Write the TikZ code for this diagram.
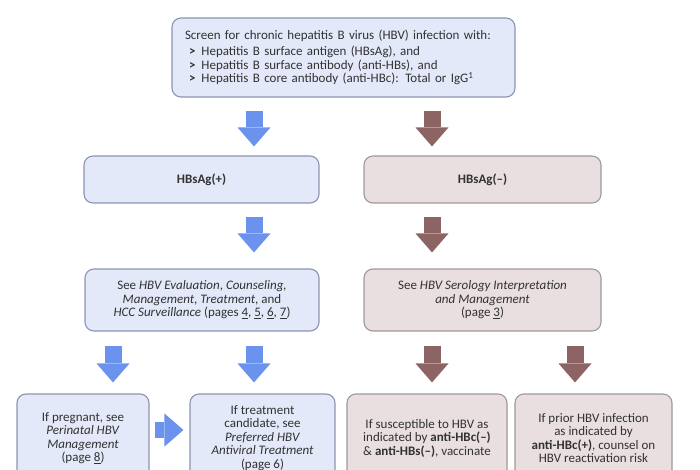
\documentclass[tikz,border=0pt]{standalone}
\usepackage{fontspec}
\setmainfont{Carlito}
\usepackage{tikz}
\usetikzlibrary{calc,arrows.meta}
\definecolor{bluefill}{RGB}{228,233,249}
\definecolor{blueline}{RGB}{140,148,176}
\definecolor{brownfill}{RGB}{233,223,225}
\definecolor{brownline}{RGB}{160,152,155}
\definecolor{bluearrow}{RGB}{107,146,236}
\definecolor{brownarrow}{RGB}{140,100,100}
\definecolor{txt}{RGB}{50,50,50}

\tikzset{
    box/.style={rounded corners=9pt, line width=1.1pt, align=center, inner sep=4pt,
        text=txt, font=\fontsize{13}{13.5}\selectfont},
    bluebox/.style={box, draw=blueline, fill=bluefill},
    brownbox/.style={box, draw=brownline, fill=brownfill},
    fatarrow/.style={line width=17pt, -{Triangle[width=33pt,length=19pt,line width=0pt]}},
    bluearr/.style={fatarrow, draw=bluearrow, fill=bluearrow},
    brownarr/.style={fatarrow, draw=brownarrow, fill=brownarrow}
}

\begin{document}
\begin{tikzpicture}[x=1pt,y=-1pt]
    \useasboundingbox (0,0) rectangle (700,470);
    \clip (0,0) rectangle (700,470);
    % screening box
    \node[bluebox, align=left, text width=317pt, minimum width=343pt, minimum height=79pt] (top) at (343.5,57.5)
        {Screen for chronic hepatitis B virus (HBV) infection with:\\[3pt]
        \hspace{4pt}\textbf{>}\hspace{6pt}Hepatitis B surface antigen (HBsAg), and\\
        \hspace{4pt}\textbf{>}\hspace{6pt}Hepatitis B surface antibody (anti-HBs), and\\
        \hspace{4pt}\textbf{>}\hspace{6pt}Hepatitis B core antibody (anti-HBc): Total or IgG\textsuperscript{1}};
    % results
    \node[bluebox, minimum width=235pt, minimum height=47pt] (plus) at (201.5,179.5) {\textbf{HBsAg(+)}};
    \node[brownbox, minimum width=237pt, minimum height=47pt] (minus) at (482.5,179.5) {\textbf{HBsAg(–)}};
    \node[bluebox, minimum width=234pt, minimum height=62pt] (evalbox) at (202,300)
        {See \textit{HBV Evaluation}, \textit{Counseling,}\\
        \textit{Management}, \textit{Treatment}, and\\
        \textit{HCC Surveillance} (pages \underline{4}, \underline{5}, \underline{6}, \underline{7})};
    \node[brownbox, minimum width=237pt, minimum height=62pt] (serobox) at (482.5,300)
        {See \textit{HBV Serology Interpretation}\\
        \textit{and Management}\\
        (page \underline{3})};
    % bottom row
    \node[bluebox, minimum width=132pt, minimum height=88pt] (preg) at (83,438)
        {If pregnant, see\\ \textit{Perinatal HBV}\\ \textit{Management}\\ (page \underline{8})};
    \node[bluebox, minimum width=145pt, minimum height=88pt] (treat) at (262.5,438)
        {If treatment\\ candidate, see\\ \textit{Preferred HBV}\\ \textit{Antiviral Treatment}\\ (page \underline{6})};
    \node[brownbox, minimum width=160pt, minimum height=88pt] (susc) at (427,438)
        {If susceptible to HBV as\\ indicated by \textbf{anti-HBc(–)}\\ \& \textbf{anti-HBs(–)}, vaccinate};
    \node[brownbox, minimum width=157pt, minimum height=88pt] (prior) at (593.5,438)
        {If prior HBV infection\\ as indicated by\\ \textbf{anti-HBc(+)}, counsel on\\ HBV reactivation risk};
    % arrows
    \draw[bluearr] ($(top.south)+(-89.5,13)$) -- ($(plus.north)+(52.5,-9)$);
    \draw[brownarr] ($(top.south)+(88.5,13)$) -- ($(minus.north)+(-50.5,-9)$);
    \draw[bluearr] ($(plus.south)+(52.5,13)$) -- ($(evalbox.north)+(52,-16)$);
    \draw[brownarr] ($(minus.south)+(-50.5,13)$) -- ($(serobox.north)+(-50.5,-16)$);
    \draw[bluearr] ($(evalbox.south)+(-89,14)$) -- ($(preg.north)+(30,-11)$);
    \draw[bluearr] ($(evalbox.south)+(52,14)$) -- ($(treat.north)+(-8.5,-11)$);
    \draw[brownarr] ($(serobox.south)+(-50.5,14)$) -- ($(susc.north)+(5,-11)$);
    \draw[brownarr] ($(serobox.south)+(92.5,14)$) -- ($(prior.north)+(-18.5,-11)$);
    \draw[bluearr, -{Triangle[width=33pt,length=19pt,line width=0pt]}, line width=16pt]
        ($(preg.east)+(5,-8)$) -- ($(treat.west)+(-6,-8)$);
\end{tikzpicture}
\end{document}
